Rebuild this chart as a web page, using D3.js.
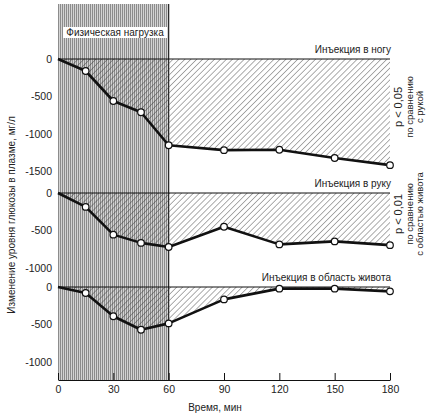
<!DOCTYPE html>
<html>
<head>
<meta charset="utf-8">
<script src="https://cdn.jsdelivr.net/npm/d3@7"></script>
<style>
  body { margin: 0; background: #fff; }
  text { font-family: "Liberation Sans", Arial, sans-serif; fill: #222; }
</style>
</head>
<body>
<div id="chart"></div>
<script>
// данные: время (мин) и изменение уровня глюкозы (мг/л)
const times = [0, 15, 30, 45, 60, 90, 120, 150, 180];
const legValues = [0, -160, -560, -710, -1150, -1215, -1210, -1320, -1415];
const armValues = [0, -185, -555, -665, -720, -450, -685, -645, -695];
const bellyValues = [0, -80, -390, -570, -485, -165, -22, -22, -58];
const xTicks = [0, 30, 60, 90, 120, 150, 180];
const exercise = [0, 60];

const panels = [
  { name: "Инъекция в ногу", values: legValues, zero: 59, ticks: [0, -500, -1000, -1500] },
  { name: "Инъекция в руку", values: armValues, zero: 193, ticks: [0, -500, -1000] },
  { name: "Инъекция в область живота", values: bellyValues, zero: 287, ticks: [0, -500, -1000] }
];

const width = 432, height = 418;
const pxPer1000 = 75;
const bottomY = 380;

const svg = d3.select("#chart").append("svg")
  .attr("width", width)
  .attr("height", height);

// узоры: вертикальная штриховка и косая штриховка
const defs = svg.append("defs");
const vert = defs.append("pattern")
  .attr("id", "vert").attr("patternUnits", "userSpaceOnUse")
  .attr("width", 2).attr("height", 10);
vert.append("rect").attr("width", 2).attr("height", 10).attr("fill", "#d4d4d4");
vert.append("rect").attr("x", 0).attr("width", 1).attr("height", 10).attr("fill", "#8c8c8c");

const hatch = defs.append("pattern")
  .attr("id", "hatch").attr("patternUnits", "userSpaceOnUse")
  .attr("width", 4.2).attr("height", 4.2)
  .attr("patternTransform", "rotate(45)");
hatch.append("line").attr("x1", 0).attr("x2", 0).attr("y1", 0).attr("y2", 4.2)
  .attr("stroke", "#333").attr("stroke-width", 0.8);

const x = d3.scaleLinear().domain([0, 180]).range([58, 390]);

// полоса физической нагрузки
svg.append("rect")
  .attr("x", x(exercise[0]))
  .attr("y", 4)
  .attr("width", x(exercise[1]) - x(exercise[0]))
  .attr("height", bottomY - 4)
  .attr("fill", "url(#vert)");
svg.append("line")
  .attr("x1", x(exercise[1])).attr("x2", x(exercise[1]))
  .attr("y1", 4).attr("y2", bottomY)
  .attr("stroke", "#222").attr("stroke-width", 1.2);

panels.forEach((p) => {
  const y = d3.scaleLinear()
    .domain([0, -1000])
    .range([p.zero, p.zero + pxPer1000]);

  const pts = times.map((t, i) => ({ t: t, v: p.values[i] }));

  // заштрихованная площадь между нулём и кривой
  const area = d3.area()
    .x((d) => x(d.t))
    .y0(y(0))
    .y1((d) => y(d.v));
  svg.append("path")
    .datum(pts)
    .attr("d", area)
    .attr("fill", "url(#hatch)");

  // нулевая линия
  svg.append("line")
    .attr("x1", x(0)).attr("x2", x(180))
    .attr("y1", y(0)).attr("y2", y(0))
    .attr("stroke", "#111").attr("stroke-width", 1);

  // кривая
  svg.append("path")
    .datum(pts)
    .attr("d", d3.line().x((d) => x(d.t)).y((d) => y(d.v)))
    .attr("fill", "none")
    .attr("stroke", "#111")
    .attr("stroke-width", 2.6)
    .attr("stroke-linejoin", "round");

  svg.selectAll(null)
    .data(pts.slice(1))
    .enter()
    .append("circle")
    .attr("cx", (d) => x(d.t))
    .attr("cy", (d) => y(d.v))
    .attr("r", 3.3)
    .attr("fill", "#fff")
    .attr("stroke", "#111")
    .attr("stroke-width", 1.2);

  // ось Y
  const yAxis = svg.append("g")
    .attr("transform", "translate(58,0)")
    .call(d3.axisLeft(y).tickValues(p.ticks).tickSize(0).tickPadding(6)
      .tickFormat((d) => d === 0 ? "0" : "-" + Math.abs(d)));
  yAxis.select(".domain").remove();
  yAxis.selectAll("text")
    .style("font-family", "Liberation Sans, Arial, sans-serif")
    .style("font-size", "10.5px")
    .attr("fill", "#222");

  // подпись панели
  svg.append("text")
    .attr("x", 391)
    .attr("y", y(0) - 6)
    .attr("text-anchor", "end")
    .style("font-size", "10px")
    .text(p.name);
});

// подпись физической нагрузки
svg.append("rect")
  .attr("x", 63).attr("y", 27)
  .attr("width", 104).attr("height", 11)
  .attr("fill", "#fff");
svg.append("text")
  .attr("x", 115).attr("y", 36)
  .attr("text-anchor", "middle")
  .style("font-size", "10px")
  .text("Физическая нагрузка");

// ось X
const xAxis = svg.append("g")
  .attr("transform", `translate(0,${bottomY})`)
  .call(d3.axisBottom(x).tickValues(xTicks).tickSizeInner(-7).tickSizeOuter(0).tickPadding(6));
xAxis.select(".domain").attr("stroke", "#111").attr("stroke-width", 1.2);
xAxis.selectAll(".tick line").attr("stroke", "#111");
xAxis.selectAll("text")
  .style("font-family", "Liberation Sans, Arial, sans-serif")
  .style("font-size", "10.5px")
  .attr("fill", "#222");

svg.append("text")
  .attr("x", 215).attr("y", 411)
  .attr("text-anchor", "middle")
  .style("font-size", "10px")
  .text("Время, мин");

// подпись оси Y
svg.append("text")
  .attr("transform", "translate(15,215) rotate(-90)")
  .attr("text-anchor", "middle")
  .style("font-size", "10px")
  .text("Изменение уровня глюкозы в плазме,  мг/л");

// статистика справа
const notes = [
  { cy: 107, lines: ["p < 0,05", "по сравнению", "с рукой"] },
  { cy: 214, lines: ["p < 0,01", "по сравнению", "с областью живота"] }
];
notes.forEach((n) => {
  n.lines.forEach((l, i) => {
    svg.append("text")
      .attr("transform", `translate(${402 + i * 10.5},${n.cy}) rotate(-90)`)
      .attr("text-anchor", "middle")
      .style("font-size", i === 0 ? "11px" : "9.5px")
      .text(l);
  });
});
</script>
</body>
</html>
